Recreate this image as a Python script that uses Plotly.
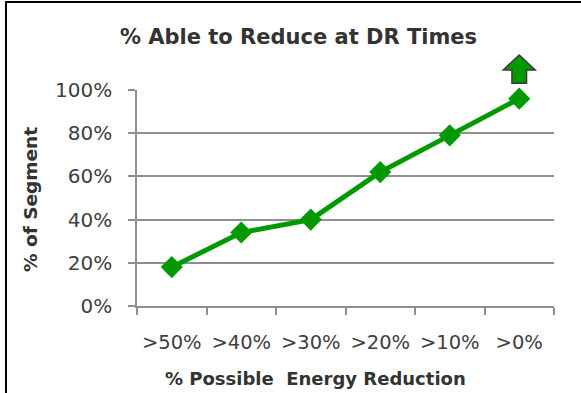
import plotly.graph_objects as go

categories = [">50%", ">40%", ">30%", ">20%", ">10%", ">0%"]
values = [18, 34, 40, 62, 79, 96]
y_ticks = [0, 20, 40, 60, 80, 100]
y_tick_labels = ["0%", "20%", "40%", "60%", "80%", "100%"]

GREEN = "#009900"
GRID = "#8f8f8f"
TEXT = "#404040"
FONT = "DejaVu Sans"

W, H = 581, 393
L, R, T, B = 137, 27, 90, 87
pw, ph = W - L - R, H - T - B

fig = go.Figure()
fig.add_trace(go.Scatter(
    x=categories, y=values, mode="lines+markers",
    line=dict(color=GREEN, width=5),
    marker=dict(symbol="diamond", size=17, color=GREEN),
    cliponaxis=False, showlegend=False, hoverinfo="skip",
))

# up arrow above the last point (paper coords derived from data position)
n = len(categories)
idx = n - 1
cx = (idx + 0.5) / n
cat_w = 1.0 / n
hw_head = 0.23 * cat_w
hw_shaft = 0.105 * cat_w
y_bottom = values[-1] + 7.1
y_head = values[-1] + 13.3
y_top = values[-1] + 20.2
def yp(v):
    return v / 100.0
path = (f"M {cx-hw_shaft} {yp(y_bottom)} L {cx+hw_shaft} {yp(y_bottom)} "
        f"L {cx+hw_shaft} {yp(y_head)} L {cx+hw_head} {yp(y_head)} "
        f"L {cx} {yp(y_top)} L {cx-hw_head} {yp(y_head)} "
        f"L {cx-hw_shaft} {yp(y_head)} Z")
shapes = [
    dict(type="path", path=path, xref="paper", yref="paper",
         fillcolor=GREEN, line=dict(color="#3a3a3a", width=1.5), layer="above"),
    # chart border (extends past right/bottom edges)
    dict(type="rect", xref="paper", yref="paper",
         x0=(6 - L) / pw, x1=(W + 20 - L) / pw,
         y0=-(H + 20 - T - ph) / ph, y1=(H - B - 2) / ph,
         line=dict(color="#000000", width=2), fillcolor="rgba(0,0,0,0)", layer="below"),
]

fig.update_layout(
    width=W, height=H,
    margin=dict(l=L, r=R, t=T, b=B),
    paper_bgcolor="white", plot_bgcolor="white",
    font=dict(family=FONT, color=TEXT),
    title=dict(text="<b>% Able to Reduce at DR Times</b>",
               x=298.5 / W, xref="container", xanchor="center",
               y=1 - 37 / H, yref="container", yanchor="middle",
               font=dict(family=FONT, size=21, color="#333333")),
    shapes=shapes,
    annotations=[
        dict(text="<b>% Possible \u00a0Energy Reduction</b>", xref="paper", yref="paper",
             x=(315.5 - L) / pw, y=(H - B - 378) / ph, showarrow=False,
             xanchor="center", yanchor="middle",
             font=dict(family=FONT, size=18, color="#333333")),
        dict(text="<b>% of Segment</b>", xref="paper", yref="paper",
             x=(30 - L) / pw, y=(H - B - 200) / ph, showarrow=False, textangle=-90,
             xanchor="center", yanchor="middle",
             font=dict(family=FONT, size=18.5, color="#333333")),
    ],
)
fig.update_xaxes(
    type="category", tickson="boundaries", ticks="outside", ticklen=7,
    tickcolor=GRID, tickwidth=1.5, showline=True, linecolor=GRID, linewidth=1.5,
    showgrid=False, tickfont=dict(family=FONT, size=19.5, color=TEXT), tickangle=0,
    ticklabelstandoff=18, range=[-0.5, n - 0.5], zeroline=False,
)
fig.update_yaxes(
    range=[0, 100], tickvals=y_ticks, ticktext=y_tick_labels,
    ticks="outside", ticklen=7, tickcolor=GRID, tickwidth=1.5,
    showline=True, linecolor=GRID, linewidth=1.5,
    showgrid=True, gridcolor=GRID, gridwidth=1.5, zeroline=False,
    tickfont=dict(family=FONT, size=20, color=TEXT), ticklabelstandoff=12,
)

fig.write_html("out.html", config={"displayModeBar": False},
               post_script="document.body.style.margin='0';document.body.style.overflow='hidden';")
